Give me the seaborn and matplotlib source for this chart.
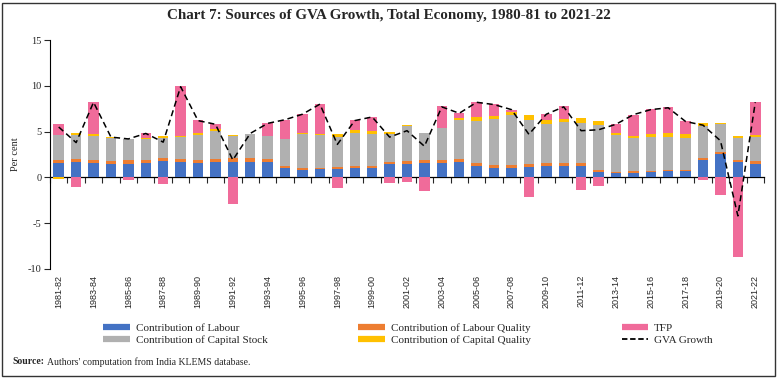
import numpy as np
import pandas as pd
import seaborn as sns
from matplotlib import pyplot as plt
from matplotlib.lines import Line2D
from matplotlib.patches import Rectangle

years = [f"{y}-{str(y + 1)[-2:]}" for y in range(1981, 2022)]

labour = [1.57, 1.64, 1.57, 1.46, 1.50, 1.57, 1.75, 1.68, 1.60, 1.68,
          1.68, 1.68, 1.68, 1.00, 0.84, 0.87, 0.91, 0.98, 0.98, 1.42,
          1.50, 1.53, 1.57, 1.68, 1.20, 1.02, 1.02, 1.09, 1.24, 1.24,
          1.24, 0.62, 0.44, 0.45, 0.55, 0.66, 0.69, 1.86, 2.51, 1.68, 1.42]
labour_quality = [0.36, 0.33, 0.36, 0.32, 0.36, 0.33, 0.35, 0.29, 0.33, 0.32,
                  0.40, 0.40, 0.32, 0.20, 0.14, 0.11, 0.18, 0.22, 0.22, 0.29,
                  0.32, 0.33, 0.29, 0.29, 0.33, 0.29, 0.29, 0.33, 0.29, 0.33,
                  0.33, 0.18, 0.14, 0.22, 0.18, 0.18, 0.15, 0.22, 0.22, 0.25, 0.33]
capital_stock = [2.67, 2.69, 2.62, 2.52, 2.29, 2.30, 2.20, 2.43, 2.70, 3.06,
                 2.42, 2.62, 2.50, 2.95, 3.72, 3.65, 3.31, 3.64, 3.50, 3.06,
                 3.78, 2.98, 3.50, 4.30, 4.63, 5.03, 5.47, 4.85, 4.34, 4.51,
                 4.37, 4.88, 4.08, 3.66, 3.64, 3.60, 3.49, 3.57, 3.14, 2.40, 2.65]
capital_quality = [-0.15, 0.14, 0.22, 0.10, 0.05, 0.07, 0.20, 0.08, 0.17, 0.19,
                   0.13, 0.07, 0.05, 0.05, 0.14, 0.14, 0.30, 0.33, 0.33, 0.18,
                   0.08, 0.00, 0.00, 0.18, 0.40, 0.36, 0.36, 0.54, 0.36, 0.26,
                   0.51, 0.48, 0.18, 0.24, 0.37, 0.40, 0.41, 0.29, 0.10, 0.15, 0.20]
tfp = [1.20, -1.10, 3.43, 0.00, -0.25, 0.58, -0.73, 5.47, 1.43, 0.62,
       -2.88, 0.00, 1.39, 2.10, 2.12, 3.28, -1.17, 1.06, 1.57, -0.58,
       -0.55, -1.46, 2.40, 0.58, 1.64, 1.28, 0.22, -2.15, 0.69, 1.42,
       -1.35, -0.91, 1.03, 2.28, 2.69, 2.85, 1.38, -0.25, -1.90, -8.70, 3.67]
gva_growth = [5.5, 3.8, 8.2, 4.4, 4.2, 4.8, 3.85, 9.9, 6.2, 5.8,
              1.9, 4.8, 5.9, 6.3, 6.9, 8.0, 3.6, 6.2, 6.6, 4.4,
              5.1, 3.4, 7.7, 7.0, 8.2, 7.95, 7.4, 4.7, 6.9, 7.7,
              5.1, 5.2, 5.8, 6.85, 7.4, 7.6, 6.1, 5.7, 4.0, -4.2, 8.2]

series = {
    "Contribution of Labour": (labour, "#4472C4"),
    "Contribution of Labour Quality": (labour_quality, "#ED7D31"),
    "Contribution of Capital Stock": (capital_stock, "#B0B0B0"),
    "Contribution of Capital Quality": (capital_quality, "#FFC000"),
    "TFP": (tfp, "#F06B9A"),
}

sns.set_style("white")
plt.rcParams['font.family'] = ['Liberation Serif', 'DejaVu Serif']
plt.rcParams['axes.unicode_minus'] = False

fig = plt.figure(figsize=(7.78, 3.79), dpi=100)
ax = fig.add_axes([50 / 778, 110 / 379, 714 / 778, 229 / 379])

# stack positives upward, negatives downward
pos_base = np.zeros(len(years))
neg_base = np.zeros(len(years))
for name, (vals, col) in series.items():
    vals = np.asarray(vals)
    bottoms = np.where(vals >= 0, pos_base, neg_base)
    sns.barplot(x=years, y=vals, bottom=bottoms, color=col, saturation=1,
                width=0.6, errorbar=None, ax=ax, linewidth=0)
    pos_base = pos_base + np.where(vals >= 0, vals, 0)
    neg_base = neg_base + np.where(vals < 0, vals, 0)

sns.lineplot(x=np.arange(len(years)), y=gva_growth, ax=ax, color="black",
             linestyle=(0, (4, 2.5)), linewidth=1.1)

ax.set_xlim(-0.5, len(years) - 0.5)
ax.set_ylim(-10, 15)
ax.set_yticks([-10, -5, 0, 5, 10, 15])
ax.tick_params(axis="y", labelsize=7.5, length=4, width=0.8, pad=2, left=True)
ax.set_ylabel("Per cent", fontsize=7.5, labelpad=6)

ax.set_xticks(np.arange(0, len(years), 2))
ax.set_xticklabels(years[::2], rotation=90, fontsize=6.5, family="Liberation Sans")
ax.tick_params(axis="x", length=0, pad=4)
ax.set_xlabel("")

for s in ["top", "right", "bottom"]:
    ax.spines[s].set_visible(False)
ax.spines["left"].set_color("black")
ax.spines["left"].set_linewidth(0.8)

# axis line at zero with category boundary ticks
zero_ax = ax.secondary_xaxis(10 / 25)
zero_ax.set_xticks(np.arange(-0.5, len(years), 1))
zero_ax.tick_params(axis="x", direction="out", length=4, width=0.8, labelbottom=False)
zero_ax.spines["bottom"].set_color("black")
zero_ax.spines["bottom"].set_linewidth(0.9)

handles = [
    Line2D([], [], color=series["Contribution of Labour"][1], lw=4.5, solid_capstyle="butt"),
    Line2D([], [], color=series["Contribution of Capital Stock"][1], lw=4.5, solid_capstyle="butt"),
    Line2D([], [], color=series["Contribution of Labour Quality"][1], lw=4.5, solid_capstyle="butt"),
    Line2D([], [], color=series["Contribution of Capital Quality"][1], lw=4.5, solid_capstyle="butt"),
    Line2D([], [], color=series["TFP"][1], lw=4.5, solid_capstyle="butt"),
    Line2D([], [], color="black", lw=1.3, linestyle=(0, (3, 1.5))),
]
labels = ["Contribution of Labour", "Contribution of Capital Stock",
          "Contribution of Labour Quality", "Contribution of Capital Quality",
          "TFP", "GVA Growth"]
fig.legend(handles, labels, loc="center", bbox_to_anchor=(408 / 778, 45 / 379),
           ncol=3, frameon=False, fontsize=8, handlelength=2.4,
           handletextpad=0.5, columnspacing=8.2, labelspacing=0.25)

fig.text(0.5, 363 / 379, "Chart 7: Sources of GVA Growth, Total Economy, 1980-81 to 2021-22",
         ha="center", va="center", fontsize=10.8, fontweight="bold")
fig.text(12 / 778, 17 / 379, "Source:", ha="left", va="center", fontsize=7, fontweight="bold")
fig.text(47 / 778, 17 / 379, "Authors' computation from India KLEMS database.",
         ha="left", va="center", fontsize=7)

fig.patches.append(Rectangle((2 / 778, 3 / 379), 773 / 778, 373 / 379,
                             transform=fig.transFigure, fill=False,
                             edgecolor="#333333", linewidth=1.0))

fig.savefig("out.png", dpi=100)
